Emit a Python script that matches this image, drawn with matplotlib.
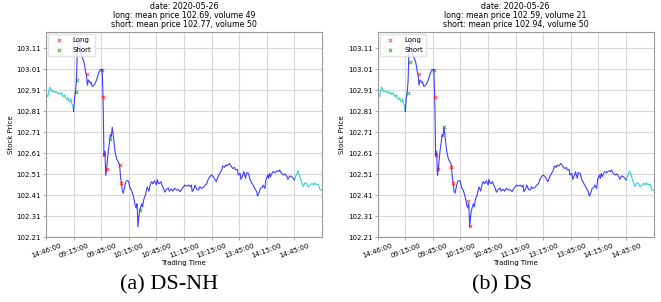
import numpy as np
import matplotlib.pyplot as plt

# minute index since 14:46 of the previous session, and the price
minutes = [0, 1, 2, 3, 4, 5, 6, 7, 8, 9, 10, 11, 12, 13, 14, 15, 16, 17, 18, 19,
           20, 21, 22, 23, 24, 25, 26, 27, 28, 29, 30,
           31, 32, 33, 34, 35, 36, 37, 38, 39, 40, 41, 42, 43, 44, 45, 46, 47, 48, 49,
           50, 51, 52, 53, 54, 55, 56, 57, 58, 59, 60, 61, 62, 63, 64, 65, 66, 67, 68, 69,
           70, 71, 72, 73, 74, 75, 76, 77, 78, 79, 80, 81, 82, 83, 84, 85, 86, 87, 88, 89,
           90, 91, 92, 93, 94, 95, 96, 97, 98, 99, 100, 101, 102, 103, 104, 105, 106, 107,
           108, 109, 110, 111, 112, 113, 114, 115, 116, 117, 118, 119, 120, 121, 122, 123,
           124, 125, 126, 127, 128, 129, 130, 131, 132, 133, 134, 135, 136, 137, 138, 139,
           140, 142, 144, 146, 148, 149, 151, 153, 155, 157, 158, 159, 161, 162, 164, 166,
           167, 169, 171, 173, 175, 176, 178, 180, 182, 184, 185, 187, 189, 191, 192, 194,
           195, 197, 199, 201, 203, 205, 206, 208, 209, 211, 212, 214, 215, 217, 218, 220,
           222, 224, 225, 227, 229, 230, 232, 233, 235, 236, 238, 239, 241, 242, 243, 244,
           246, 247, 249, 251, 253, 254, 256, 258, 260, 262, 263, 265, 267, 269, 270,
           272, 274, 276, 278, 280, 281, 283, 285, 287, 289, 291, 292, 294, 296, 298, 300]
price = [102.890, 102.885, 102.880, 102.905, 102.925, 102.920, 102.905, 102.910, 102.905, 102.905,
         102.900, 102.905, 102.900, 102.895, 102.900, 102.890, 102.895, 102.900, 102.885, 102.880,
         102.890, 102.875, 102.870, 102.865, 102.875, 102.860, 102.855, 102.870, 102.845, 102.840,
         102.810,
         102.870, 102.900, 102.950, 103.100, 103.140, 103.150, 103.130, 103.080, 103.070, 103.060,
         103.050, 103.030, 103.000, 102.980, 102.935, 102.960, 102.955, 102.945, 102.950,
         102.930, 102.930, 102.935, 102.940, 102.950, 102.960, 102.975, 102.990, 103.000, 103.010,
         103.005, 103.010, 102.880, 102.600, 102.620, 102.505, 102.535, 102.590, 102.630, 102.660,
         102.700, 102.690, 102.735, 102.700, 102.660, 102.620, 102.600, 102.580, 102.575, 102.565,
         102.555, 102.500, 102.470, 102.430, 102.420, 102.440, 102.460, 102.475, 102.480, 102.480,
         102.475, 102.450, 102.440, 102.435, 102.420, 102.405, 102.385, 102.360, 102.350, 102.370,
         102.260, 102.310, 102.340, 102.355, 102.370, 102.355, 102.385, 102.400,
         102.410, 102.430, 102.450, 102.440, 102.430, 102.455, 102.470, 102.475, 102.465, 102.470,
         102.480, 102.470, 102.460, 102.485, 102.470, 102.465,
         102.470, 102.475, 102.460, 102.450, 102.440, 102.425, 102.430, 102.440, 102.440, 102.445,
         102.430, 102.435, 102.440, 102.435, 102.430, 102.440,
         102.443, 102.435, 102.438, 102.427, 102.443, 102.448, 102.459, 102.454, 102.459, 102.451,
         102.459, 102.427, 102.443, 102.459, 102.438, 102.435,
         102.451, 102.443, 102.448, 102.459, 102.467, 102.483, 102.499, 102.507, 102.499, 102.483,
         102.475, 102.499, 102.515, 102.531, 102.550, 102.543,
         102.554, 102.550, 102.562, 102.550, 102.538, 102.543, 102.531, 102.534, 102.507, 102.515,
         102.486, 102.507, 102.523, 102.491, 102.518, 102.515,
         102.483, 102.467, 102.459, 102.443, 102.427, 102.407, 102.427, 102.443, 102.448, 102.459,
         102.443, 102.483, 102.507, 102.491, 102.515, 102.499,
         102.518, 102.523, 102.518, 102.527, 102.523, 102.531, 102.515, 102.507, 102.512, 102.499,
         102.486, 102.502, 102.499, 102.491, 102.483,
         102.507, 102.527, 102.499, 102.470, 102.451, 102.467, 102.470, 102.451, 102.459, 102.467,
         102.459, 102.470, 102.459, 102.464, 102.435, 102.435]

tick_pos = [0, 30, 60, 90, 120, 150, 180, 210, 240, 270]
tick_labels = ['14:46:00', '09:15:00', '09:45:00', '10:15:00', '10:45:00',
               '11:15:00', '13:15:00', '13:45:00', '14:15:00', '14:45:00']
open_idx = 30
close_idx = 270

# trades: (a) DS-NH
long_x_a = [45, 62, 63, 66, 80, 82]
long_y_a = [102.988, 102.877, 102.600, 102.534, 102.555, 102.467]
short_x_a = [33, 34, 61, 70, 102]
short_y_a = [102.904, 102.959, 103.007, 102.677, 102.340]
# trades: (b) DS
long_x_b = [45, 62, 63, 66, 80, 82, 98, 100]
long_y_b = [102.988, 102.877, 102.600, 102.534, 102.543, 102.467, 102.385, 102.264]
short_x_b = [33, 35, 61, 72]
short_y_b = [102.900, 103.047, 103.005, 102.737]

panels = [
    ('long: mean price 102.69, volume 49', 'short: mean price 102.77, volume 50',
     long_x_a, long_y_a, short_x_a, short_y_a, '(a) DS-NH'),
    ('long: mean price 102.59, volume 21', 'short: mean price 102.94, volume 50',
     long_x_b, long_y_b, short_x_b, short_y_b, '(b) DS'),
]

minutes = np.array(minutes)
price = np.array(price)
inside = (minutes >= open_idx) & (minutes <= close_idx)
pre = minutes <= open_idx
post = minutes >= close_idx

fig = plt.figure(figsize=(6.61, 3.02), dpi=100)
lefts = [46 / 661, 377.7 / 661]
cap_x = [0.256, 0.759]
for i, (lt, st, lx, ly, sx, sy, cap) in enumerate(panels):
    ax = fig.add_axes([lefts[i], 0.2142, 0.4175, 0.681])
    ax.plot(minutes[pre], price[pre], color='c', alpha=0.75, lw=0.8)
    ax.plot(minutes[post], price[post], color='c', alpha=0.75, lw=0.8)
    ax.plot(minutes[inside], price[inside], color='b', alpha=0.75, lw=0.8)
    ax.scatter(lx, ly, marker='x', color='red', s=6, lw=0.7, alpha=0.7, label='Long', zorder=3)
    ax.scatter(sx, sy, marker='x', color='green', s=6, lw=0.7, alpha=0.7, label='Short', zorder=3)
    ax.set_xlim(0, 300)
    ax.set_ylim(102.21, 103.19)
    ax.set_yticks(np.arange(102.21, 103.12, 0.1))
    ax.set_yticklabels(['%.2f' % v for v in np.arange(102.21, 103.12, 0.1)])
    ax.set_xticks(tick_pos)
    ax.set_xticklabels(tick_labels, rotation=20)
    ax.tick_params(labelsize=5, length=2, width=0.5, pad=1.5, color='#888888')
    ax.grid(True, color='#d8d8d8', lw=0.8)
    ax.set_axisbelow(True)
    for s in ax.spines.values():
        s.set_color('#999999')
        s.set_linewidth(0.8)
    ax.set_xlabel('Trading Time', fontsize=5, labelpad=1)
    ax.set_ylabel('Stock Price', fontsize=5, labelpad=2)
    ax.set_title('date: 2020-05-26\n' + lt + '\n' + st, fontsize=5.7, pad=3, linespacing=1.05)
    ax.legend(loc='upper left', fontsize=5, markerscale=1, handletextpad=1.0,
              borderpad=0.5, framealpha=0.8, edgecolor='#dddddd', borderaxespad=0.3)
    fig.text(cap_x[i], 0.056, cap, ha='center', va='center',
             family='Liberation Serif', fontsize=16)

plt.savefig('out.png', dpi=100)
